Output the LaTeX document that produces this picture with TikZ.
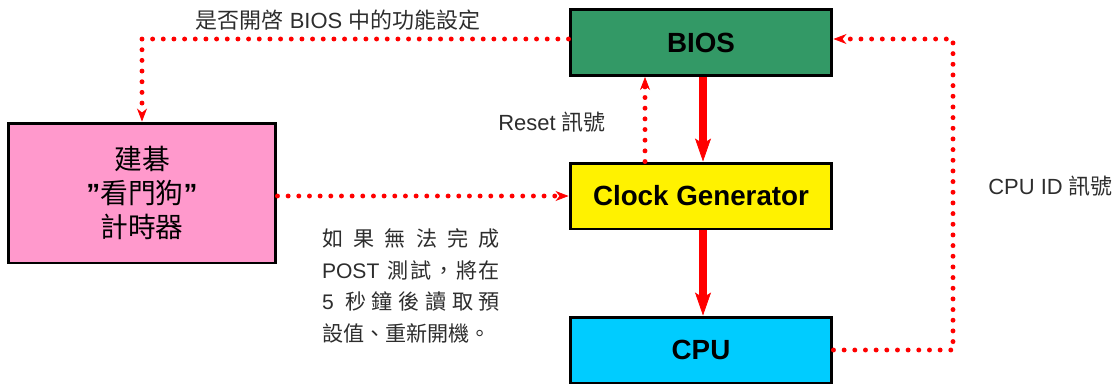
\documentclass[tikz,border=0pt]{standalone}
\usepackage{fontspec}
\setmainfont{Liberation Sans}
\newfontfamily\cjk{Noto Sans CJK TC}
\usetikzlibrary{arrows.meta}
\definecolor{biosgreen}{RGB}{51,153,102}
\definecolor{dogpink}{RGB}{255,153,204}
\definecolor{cpublue}{RGB}{0,204,255}
\definecolor{labelgray}{RGB}{45,45,45}
\tikzset{
  unitbox/.style={draw=black, line width=1.7pt, minimum width=5.24cm, minimum height=1.32cm,
    font=\fontsize{15.8}{19}\selectfont\bfseries},
  dotline/.style={red, line width=2.8pt, line cap=round, dash pattern=on 0pt off 6.07pt},
  dottip/.style={-{Stealth[length=0.26cm, width=0.2cm, inset=0.08cm, line width=0.4pt]}},
  bigarrow/.style={red, line width=4.2pt, -{Stealth[length=0.46cm, width=0.32cm, inset=0.1cm, line width=0.4pt]}},
  sidelabel/.style={text=labelgray, font=\fontsize{12.5}{15}\selectfont, inner sep=0pt},
}

\begin{document}
\begin{tikzpicture}[x=0.02cm, y=-0.02cm]
  \useasboundingbox (0,0) rectangle (1115,383);

  % blocks
  \node[unitbox, fill=biosgreen] (bios) at (701,42.5) {BIOS};
  \node[unitbox, fill=yellow] (clock) at (701,196) {Clock Generator};
  \node[unitbox, fill=cpublue] (cpu) at (701,350) {CPU};
  \node[unitbox, fill=dogpink, minimum width=5.36cm, minimum height=2.8cm, align=center,
    font=\fontsize{15.8}{19.6}\selectfont\bfseries] (watchdog) at (142,193)
    {{\cjk\mdseries 建碁}\\”{\cjk\mdseries 看門狗}”\\{\cjk\mdseries 計時器}};

  % labels
  \node[sidelabel] (biosq) at (338,20) {{\cjk 是否開啓} BIOS {\cjk 中的功能設定}};
  \node[sidelabel, anchor=east] (resetq) at (606,122) {Reset {\cjk 訊號}};
  \node[sidelabel, anchor=west] (cpuidq) at (988,186) {CPU ID {\cjk 訊號}};
  \node[sidelabel, align=left, font=\fontsize{12}{18}\selectfont] (postnote) at (411,286)
    {\makebox[3.56cm][s]{{\cjk 如\hfil 果\hfil 無\hfil 法\hfil 完\hfil 成}}\\
     \makebox[3.56cm][s]{POST\hskip 0.3em plus 1fil{\cjk 測\hfil 試\hfil ，\hfil 將\hfil 在}}\\
     \makebox[3.56cm][s]{5\hfil\hfil{\cjk 秒\hfil 鐘\hfil 後\hfil 讀\hfil 取\hfil 預}}\\
     \makebox[3.56cm][l]{{\cjk 設值、重新開機。}}};

  % connectors
  \draw[dotline, dottip] ([yshift=0.07cm]bios.west) -| (watchdog.north);
  \draw[dotline, dottip] (watchdog.east |- clock.west) -- (clock.west);
  \draw[dotline, dottip] ([xshift=-1.12cm]clock.north) -- ([xshift=-1.12cm]bios.south);
  \draw[bigarrow] ([xshift=0.04cm]bios.south) -- ([xshift=0.04cm]clock.north);
  \draw[bigarrow] ([xshift=0.04cm]clock.south) -- ([xshift=0.04cm]cpu.north);
  \coordinate (idcorner) at (953,39);
  \draw[dotline, dottip] (cpu.east) -| (idcorner) -- ([yshift=0.07cm]bios.east);
\end{tikzpicture}
\end{document}
